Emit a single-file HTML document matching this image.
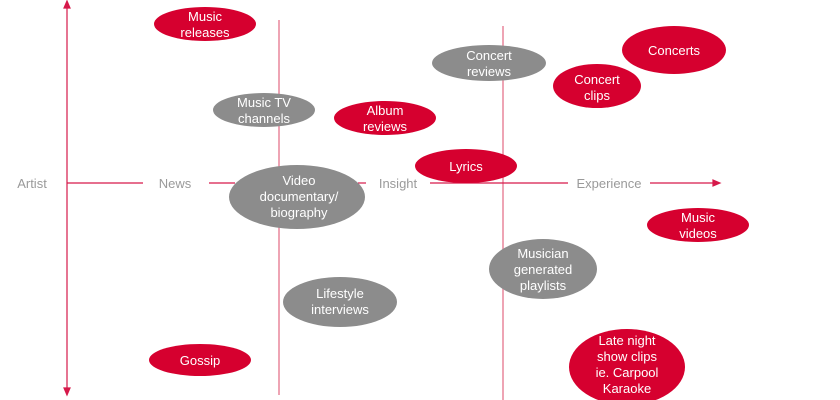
<!DOCTYPE html>
<html><head><meta charset="utf-8"><style>body{margin:0;background:#fff}svg{display:block}</style></head>
<body>
<svg width="840" height="400" viewBox="0 0 840 400" xmlns="http://www.w3.org/2000/svg" font-family="Liberation Sans, sans-serif">
<g stroke="#e8869c" stroke-width="1.5">
<line x1="279" y1="20" x2="279" y2="395"/>
<line x1="503" y1="26" x2="503" y2="400"/>
</g>
<g stroke="#d6194a" stroke-width="1.2" fill="#d6194a">
<line x1="67" y1="6" x2="67" y2="391"/>
<polygon points="67,1 64,8 70,8"/>
<polygon points="67,395 64,388 70,388"/>
<line x1="67" y1="183" x2="143" y2="183"/>
<line x1="209" y1="183" x2="235" y2="183"/>
<line x1="358" y1="183" x2="366" y2="183"/>
<line x1="430" y1="183" x2="568" y2="183"/>
<line x1="650" y1="183" x2="714" y2="183"/>
<polygon points="720,183 713,180 713,186"/>
</g>
<g font-size="13" fill="#9a9a9a" text-anchor="middle">
<text x="32" y="188">Artist</text>
<text x="175" y="188">News</text>
<text x="398" y="188">Insight</text>
<text x="609" y="188">Experience</text>
</g>
<g fill="#d6002f">
<ellipse cx="205" cy="24" rx="51" ry="17"/>
<ellipse cx="385" cy="118" rx="51" ry="17"/>
<ellipse cx="674" cy="50" rx="52" ry="24"/>
<ellipse cx="597" cy="86" rx="44" ry="22"/>
<ellipse cx="466" cy="166" rx="51" ry="17"/>
<ellipse cx="698" cy="225" rx="51" ry="17"/>
<ellipse cx="200" cy="360" rx="51" ry="16"/>
<ellipse cx="627" cy="367" rx="58" ry="38"/>
</g>
<g fill="#8c8c8c">
<ellipse cx="264" cy="110" rx="51" ry="17"/>
<ellipse cx="489" cy="63" rx="57" ry="18"/>
<ellipse cx="297" cy="197" rx="68" ry="32"/>
<ellipse cx="543" cy="269" rx="54" ry="30"/>
<ellipse cx="340" cy="302" rx="57" ry="25"/>
</g>
<g font-size="13" fill="#fff" text-anchor="middle">
<text x="205" y="21">Music</text><text x="205" y="37">releases</text>
<text x="385" y="115">Album</text><text x="385" y="131">reviews</text>
<text x="674" y="55">Concerts</text>
<text x="597" y="84">Concert</text><text x="597" y="100">clips</text>
<text x="466" y="171">Lyrics</text>
<text x="698" y="222">Music</text><text x="698" y="238">videos</text>
<text x="200" y="365">Gossip</text>
<text x="627" y="345">Late night</text><text x="627" y="361">show clips</text><text x="627" y="377">ie. Carpool</text><text x="627" y="393">Karaoke</text>
<text x="264" y="107">Music TV</text><text x="264" y="123">channels</text>
<text x="489" y="60">Concert</text><text x="489" y="76">reviews</text>
<text x="299" y="185">Video</text><text x="299" y="201">documentary/</text><text x="299" y="217">biography</text>
<text x="543" y="258">Musician</text><text x="543" y="274">generated</text><text x="543" y="290">playlists</text>
<text x="340" y="298">Lifestyle</text><text x="340" y="314">interviews</text>
</g>
</svg>
</body></html>
